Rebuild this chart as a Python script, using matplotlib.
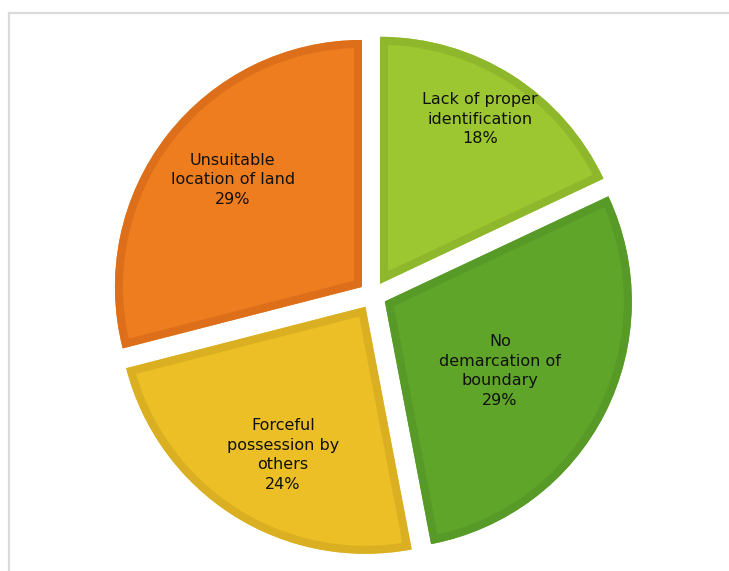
import numpy as np
import matplotlib.pyplot as plt
from matplotlib.lines import Line2D
from matplotlib.patches import Wedge

labels = ['Lack of proper\nidentification', 'No\ndemarcation of\nboundary',
          'Forceful\npossession by\nothers', 'Unsuitable\nlocation of land']
shares = [18, 29, 24, 29]
fills = ['#9DC730', '#5FA52A', '#EBBF25', '#EE7D1F']
rims = ['#8FB72C', '#579A27', '#DAAF22', '#DD6F1B']
# label placement: distance from wedge centre (fraction of radius), angle tweak (deg)
label_dist = [0.78, 0.545, 0.687, 0.679]
label_turn = [1.2, -4.1, 3.3, -1.9]

W, H = 729, 571
fig = plt.figure(figsize=(W / 100, H / 100), dpi=100)
ax = fig.add_axes([0, 0, 1, 1])

# outer frame: only the top and left edges are visible
fig.add_artist(Line2D([9 / W, 1], [1 - 13 / H, 1 - 13 / H], color='#DADADA', lw=1.6))
fig.add_artist(Line2D([9 / W, 9 / W], [0, 1 - 13 / H], color='#DADADA', lw=1.6))

R = 247
gap = 13.6  # explode offset, in the same units as the radius
wedges, _ = ax.pie(shares, colors=fills, startangle=90, counterclock=False,
                   center=(372.7, H - 295.3), radius=R,
                   explode=[gap] * 4, frame=True,
                   wedgeprops=dict(linewidth=0))
ax.set_xlim(0, W)
ax.set_ylim(0, H)
ax.set_aspect('equal')
ax.axis('off')

for w, rim, txt, val, d, t in zip(wedges, rims, labels, shares, label_dist, label_turn):
    # darker rim on the inside of each wedge: a wide outline clipped to the wedge
    edge = Wedge(w.center, w.r, w.theta1, w.theta2, fill=False,
                 edgecolor=rim, linewidth=11.5)
    ax.add_patch(edge)
    edge.set_clip_path(w)
    mid = np.deg2rad((w.theta1 + w.theta2) / 2 + t)
    cx, cy = w.center
    ax.text(cx + d * R * np.cos(mid), cy + d * R * np.sin(mid),
            f'{txt}\n{val}%', ha='center', va='center',
            fontsize=11.5, linespacing=1.38, color='#111111')

fig.savefig('out.png', dpi=100)
